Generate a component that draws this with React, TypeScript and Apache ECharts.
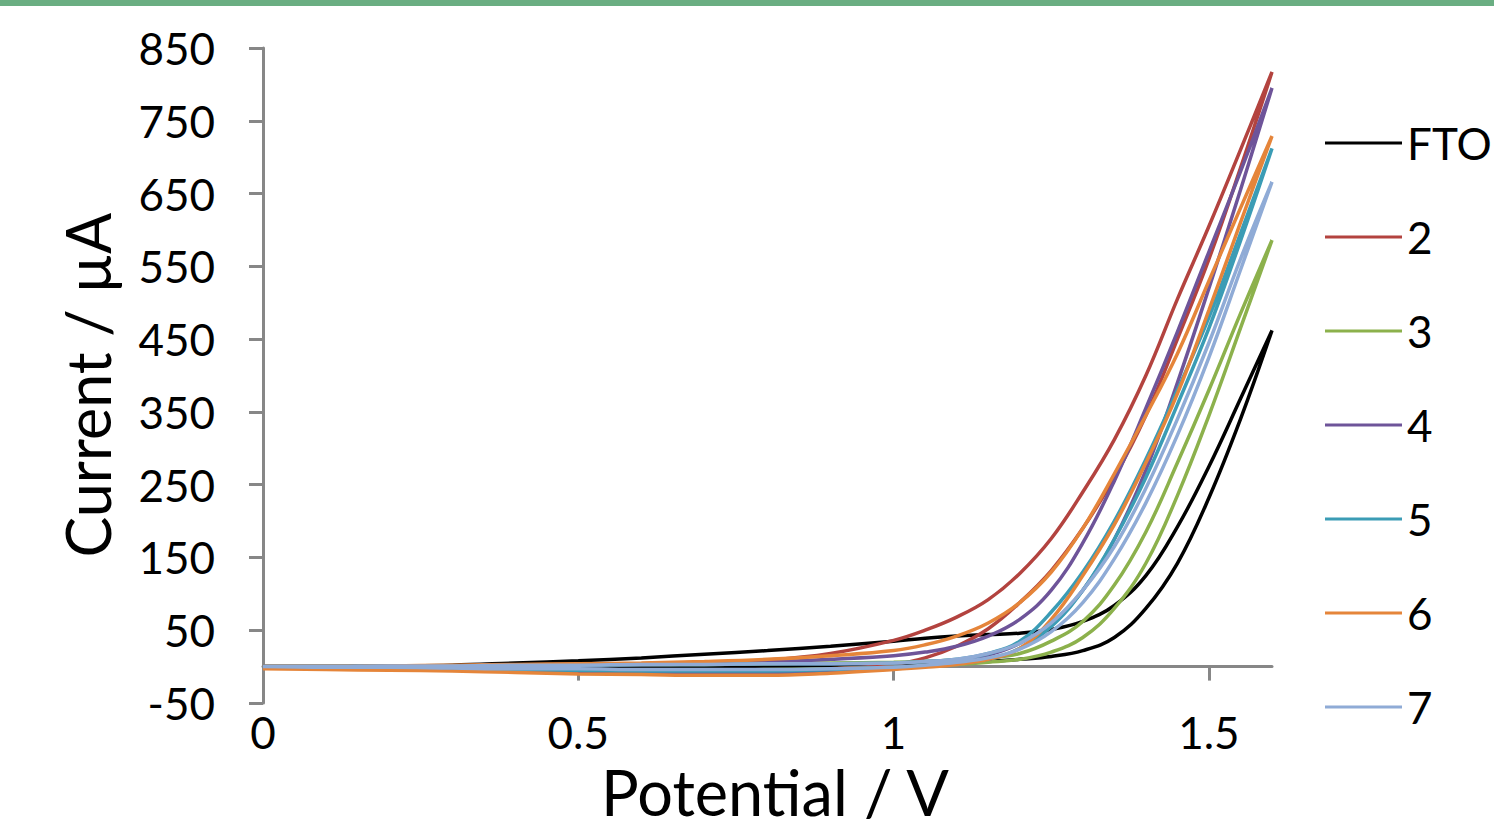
import React, { useEffect, useRef } from "react";
import * as echarts from "echarts";

// Potential grid (V) shared by every sweep branch
const potential = [0, 0.1, 0.2, 0.3, 0.4, 0.5, 0.6, 0.7, 0.8, 0.9, 1.0, 1.05, 1.1, 1.15, 1.2, 1.25, 1.3, 1.35, 1.4, 1.45, 1.5, 1.55, 1.6];

// Current (µA) on the upper (earlier onset) and lower branches of each loop
const ftoUpper = [0, 0, 1, 2, 5, 8, 12, 17, 22, 28, 35, 39, 42, 44, 46, 51, 62, 84, 125, 192, 275, 368, 462];
const ftoLower = [0, -1, -1, -2, -2, -2, -2, -1, 0, 1, 3, 4, 5, 7, 10, 14, 22, 40, 80, 142, 232, 340, 462];

const s2Upper = [0, 0, 1, 1, 2, 3, 4, 6, 9, 18, 36, 50, 68, 92, 128, 176, 240, 312, 400, 505, 605, 710, 817];
const s2Lower = [0, -1, -2, -3, -4, -5, -6, -7, -6, -3, 3, 12, 28, 52, 88, 132, 190, 260, 345, 450, 560, 685, 817];

const s3Upper = [0, 0, 1, 1, 2, 2, 3, 3, 4, 5, 6, 7, 9, 12, 18, 35, 62, 112, 185, 280, 380, 485, 586];
const s3Lower = [0, -1, -2, -3, -4, -5, -5, -5, -4, -3, -1, 1, 3, 6, 10, 20, 40, 80, 142, 235, 345, 465, 586];

const s4Upper = [0, 0, 1, 1, 2, 3, 3, 4, 6, 10, 15, 20, 28, 42, 65, 105, 170, 255, 355, 460, 570, 680, 795];
const s4Lower = [0, -1, -2, -4, -6, -7, -8, -9, -9, -6, -2, 1, 8, 16, 32, 60, 105, 175, 270, 390, 520, 655, 795];

const s5Upper = [0, 0, 1, 1, 2, 2, 3, 3, 4, 4, 5, 7, 10, 18, 35, 75, 130, 200, 285, 380, 480, 595, 712];
const s5Lower = [0, -1, -2, -3, -4, -5, -6, -6, -6, -4, -1, 1, 4, 10, 25, 55, 105, 175, 260, 360, 465, 585, 712];

const s6Upper = [0, 0, 1, 2, 3, 4, 5, 7, 10, 15, 22, 30, 42, 60, 88, 130, 190, 265, 345, 430, 530, 630, 729];
const s6Lower = [-3, -4, -5, -6, -8, -10, -11, -12, -12, -9, -4, -1, 3, 10, 25, 65, 125, 195, 280, 375, 490, 610, 729];

const s7Upper = [0, 0, 1, 1, 2, 2, 3, 3, 4, 4, 5, 7, 10, 18, 32, 60, 105, 165, 245, 340, 445, 560, 666];
const s7Lower = [0, -1, -1, -2, -3, -3, -4, -4, -4, -3, -1, 2, 6, 12, 24, 48, 88, 148, 225, 318, 425, 545, 666];

const seriesNames = ["FTO", "2", "3", "4", "5", "6", "7"];
const seriesColors = ["#000000", "#b3433f", "#8cb14c", "#6e5499", "#3b9cb5", "#e5853a", "#8fabd6"];
const branches = [
  [ftoUpper, ftoLower],
  [s2Upper, s2Lower],
  [s3Upper, s3Lower],
  [s4Upper, s4Lower],
  [s5Upper, s5Lower],
  [s6Upper, s6Lower],
  [s7Upper, s7Lower],
];

const xTicks = [0, 0.5, 1, 1.5];

function loop(upper: number[], lower: number[]): number[][] {
  const pts: number[][] = [];
  for (let i = 0; i < potential.length; i++) pts.push([potential[i], lower[i]]);
  for (let i = potential.length - 2; i >= 0; i--) pts.push([potential[i], upper[i]]);
  return pts;
}

const FONT = "Lato, 'Open Sans', sans-serif";
const AXIS_GRAY = "#878787";

export default function App() {
  const ref = useRef<HTMLDivElement>(null);
  useEffect(() => {
    document.body.style.margin = "0";
    const chart = echarts.init(ref.current!, null, { renderer: "svg" });
    chart.setOption({
      animation: false,
      backgroundColor: "#ffffff",
      grid: { left: 263, right: 222, top: 48, bottom: 116, containLabel: false },
      xAxis: {
        type: "value",
        min: 0,
        max: 1.6,
        interval: 0.5,
        axisLine: { show: true, onZero: true, lineStyle: { color: AXIS_GRAY, width: 3 } },
        axisTick: { show: true, length: 14, customValues: xTicks, lineStyle: { color: AXIS_GRAY, width: 3 } },
        axisLabel: { customValues: xTicks, margin: 7, fontSize: 44, color: "#000", fontFamily: FONT },
        splitLine: { show: false },
      },
      yAxis: {
        type: "value",
        min: -50,
        max: 850,
        interval: 100,
        axisLine: { show: true, lineStyle: { color: AXIS_GRAY, width: 3 } },
        axisTick: { show: true, length: 14, lineStyle: { color: AXIS_GRAY, width: 3 } },
        axisLabel: { margin: 48, fontSize: 44, color: "#000", fontFamily: FONT },
        splitLine: { show: false },
      },
      legend: {
        orient: "vertical",
        left: 1325,
        top: 121,
        padding: 0,
        icon: "rect",
        itemWidth: 77,
        itemHeight: 3,
        itemGap: 50,
        data: seriesNames,
        textStyle: { fontSize: 44, color: "#000", fontFamily: FONT, padding: [0, 0, 0, 0] },
      },
      graphic: [
        { type: "rect", left: 0, top: 0, shape: { x: 0, y: 0, width: 1494, height: 6 }, style: { fill: "#6aae82" } },
        {
          type: "text",
          x: 775,
          y: 791,
          style: { text: "Potential / V", font: `63px ${FONT}`, fill: "#000", align: "center", verticalAlign: "middle" },
        },
        {
          type: "text",
          x: 87,
          y: 385,
          rotation: Math.PI / 2,
          style: { text: "Current / µA", font: `61px ${FONT}`, fill: "#000", align: "center", verticalAlign: "middle" },
        },
      ],
      series: seriesNames.map((name, k) => ({
        name,
        type: "line",
        data: loop(branches[k][0], branches[k][1]),
        symbol: "none",
        smooth: 0.4,
        clip: true,
        color: seriesColors[k],
        lineStyle: { width: 3.5, color: seriesColors[k] },
      })),
    });
    return () => chart.dispose();
  }, []);
  return <div ref={ref} style={{ position: "fixed", left: 0, top: 0, width: 1494, height: 819 }} />;
}
